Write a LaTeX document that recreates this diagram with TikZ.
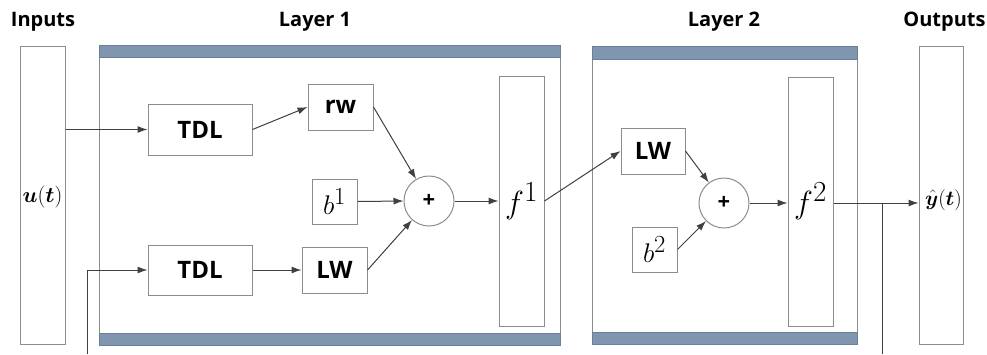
\RequirePackage{fix-cm}
\documentclass[tikz,border=0pt]{standalone}
\usepackage{fontspec}
\setmainfont{Open Sans}
\usepackage{amsmath,bm}
\usetikzlibrary{arrows.meta}
\definecolor{boxgray}{HTML}{8C8C8C}
\definecolor{linegray}{HTML}{404040}
\definecolor{barfill}{HTML}{7F95B0}
\definecolor{barline}{HTML}{6A7F98}
\newcommand{\bigsup}[1]{^{\scalebox{1.3}{$\scriptstyle #1$}}}
\begin{document}
\begin{tikzpicture}[x=1pt,y=-1pt,
  box/.style={draw=boxgray, line width=1pt, fill=white, inner sep=0pt, rectangle},
  lbl/.style={box, font=\bfseries\fontsize{24}{26}\selectfont},
  head/.style={font=\bfseries\fontsize{20}{22}\selectfont, inner sep=0pt},
  bar/.style={fill=barfill, draw=barline, line width=0.8pt},
  sumnode/.style={draw=boxgray, line width=1pt, fill=white, circle, minimum size=50pt, inner sep=0pt, font=\bfseries\fontsize{22}{24}\selectfont},
  conn/.style={draw=linegray, line width=1pt, -{Latex[length=10pt,width=7pt]}},
  wire/.style={draw=linegray, line width=1pt}
]
\useasboundingbox (0,0) rectangle (987,354);
% frames
\node[box, minimum width=45pt, minimum height=298pt] (in) at (42.5,195) {};
\node[box, minimum width=461pt, minimum height=300pt] (L1) at (329.5,195) {};
\node[box, minimum width=265pt, minimum height=298pt] (L2) at (724.5,195) {};
\node[box, minimum width=44pt, minimum height=298pt] (out) at (941,195) {};
\draw[bar] (99,45) rectangle (560,57);
\draw[bar] (99,333) rectangle (560,345);
\draw[bar] (592,46) rectangle (857,59);
\draw[bar] (592,332) rectangle (857,344);
% headings
\node[head] (hin) at (43,22) {Inputs};
\node[head] (hl1) at (315,22) {Layer 1};
\node[head] (hl2) at (724,22) {Layer 2};
\node[head] (hout) at (944.5,22) {Outputs};
% inner labels
\node[inner sep=0pt, font=\fontsize{22}{24}\selectfont] (ulab) at (42.5,197) {$\bm{u}(\bm{t})$};
\node[inner sep=0pt, font=\fontsize{21}{24}\selectfont] (ylab) at (943.5,200) {$\hat{\bm{y}}(\bm{t})$};
% layer 1
\node[box, minimum width=45pt, minimum height=250pt, font=\fontsize{32}{34}\selectfont] (f1) at (521.5,201) {$f\bigsup{1}$};
\node[lbl, minimum width=104pt, minimum height=51pt] (tdl1) at (200,129.5) {TDL};
\node[lbl, minimum width=104pt, minimum height=50pt] (tdl2) at (200,270) {TDL};
\node[lbl, minimum width=65pt, minimum height=46pt] (rw) at (340.5,107) {rw};
\node[box, minimum width=45pt, minimum height=45pt, font=\fontsize{27}{29}\selectfont] (b1) at (334.5,201.5) {$b\bigsup{1}$};
\node[lbl, minimum width=65pt, minimum height=46pt] (lw1) at (334.5,270) {LW};
\node[sumnode] (s1) at (429,201) {+};
% layer 2
\node[box, minimum width=45pt, minimum height=249pt, font=\fontsize{32}{34}\selectfont] (f2) at (810.5,201.5) {$f\bigsup{2}$};
\node[lbl, minimum width=64pt, minimum height=46pt] (lw2) at (653,151) {LW};
\node[box, minimum width=45pt, minimum height=45pt, font=\fontsize{27}{29}\selectfont] (b2) at (654.5,249.5) {$b\bigsup{2}$};
\node[sumnode] (s2) at (724,203) {+};
% connectors
\coordinate (bin) at (87,354);
\coordinate (fb) at (882,354);
\draw[conn] (in.east |- tdl1.west) -- (tdl1.west);
\draw[conn] (bin) |- (tdl2.west);
\draw[conn] (tdl1.east) -- (rw.west);
\draw[conn] (tdl2.east) -- (lw1.west);
\draw[conn] (rw.east) -- (s1);
\draw[conn] (b1.east) -- (s1.west);
\draw[conn] (lw1.east) -- (s1);
\draw[conn] (s1.east) -- (f1.west);
\draw[conn] (f1.east) -- (lw2.west);
\draw[conn] (lw2.east) -- (s2);
\draw[conn] (b2.east) -- (s2);
\draw[conn] (s2.east) -- (f2.west |- s2.east);
\draw[conn] (f2.east |- s2.east) -- (out.west |- s2.east);
\draw[wire] (fb) -- (fb |- s2.east);
\end{tikzpicture}
\end{document}
